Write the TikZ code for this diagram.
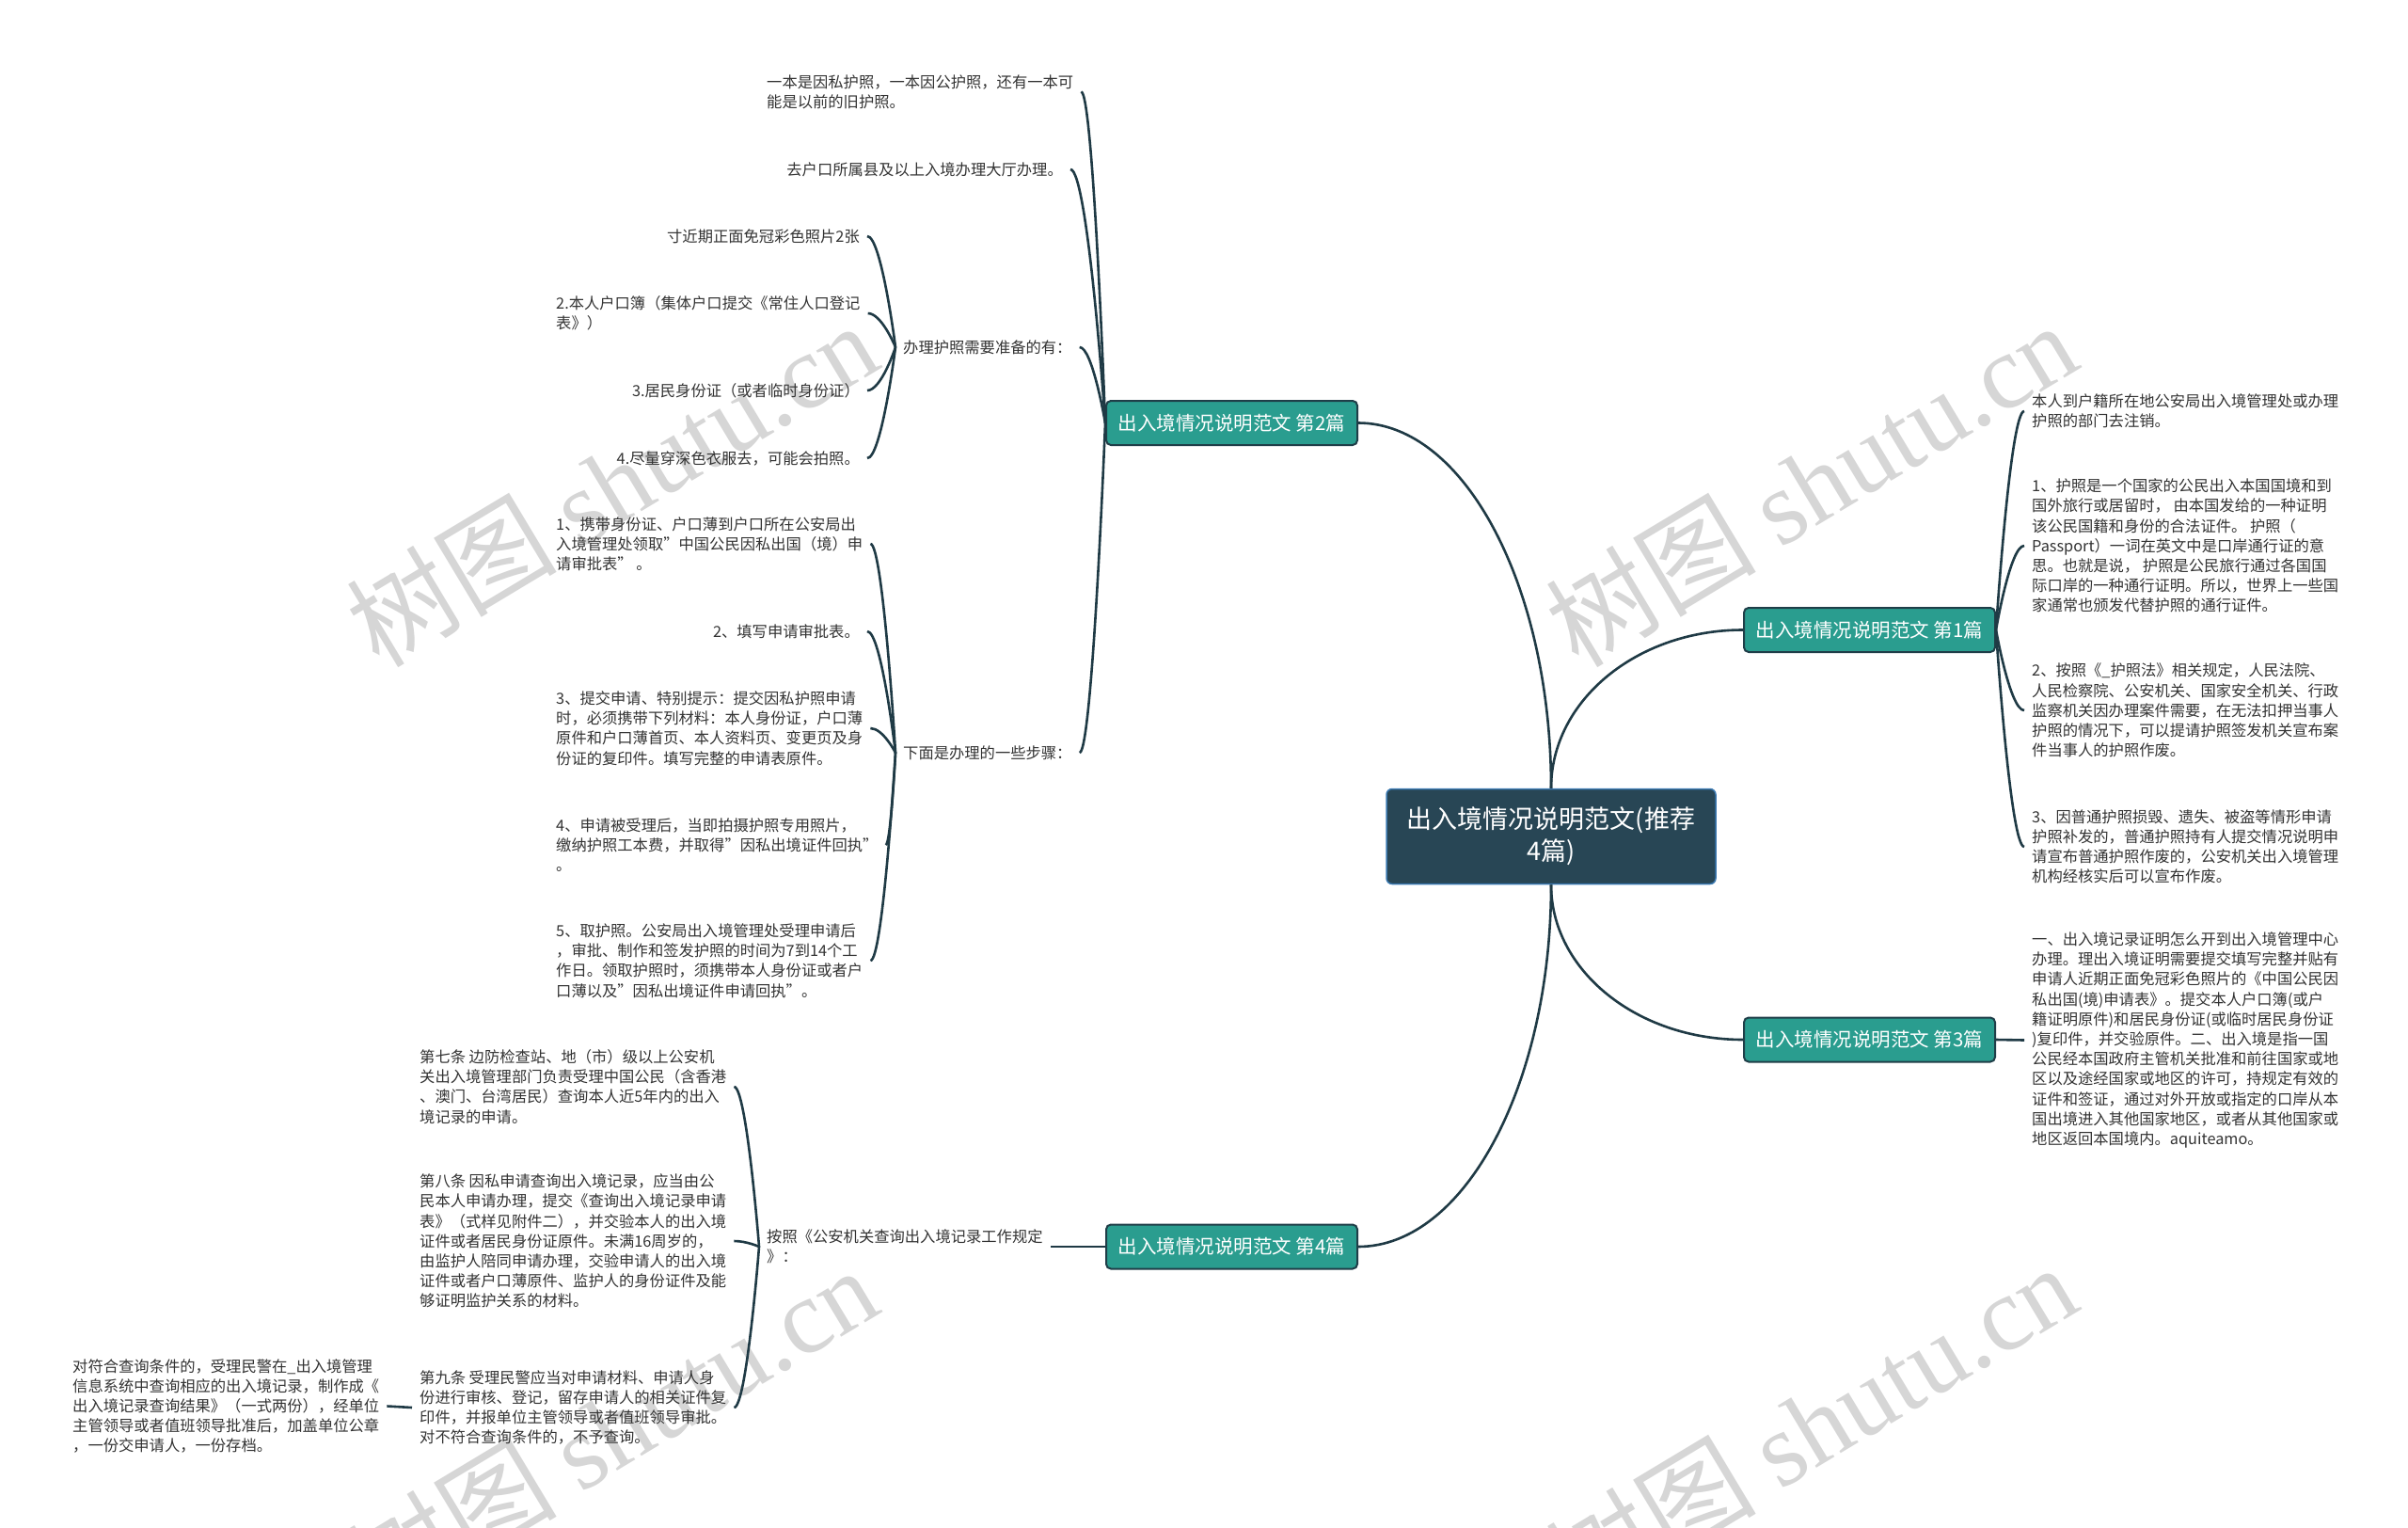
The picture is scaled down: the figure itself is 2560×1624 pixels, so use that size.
\documentclass[tikz,border=0pt]{standalone}
\usepackage{fontspec}
\setmainfont{Noto Sans CJK SC}
\newfontfamily\wmlat{Liberation Serif}
\usetikzlibrary{calc}
\definecolor{linec}{HTML}{1F3A45}
\definecolor{rootfill}{HTML}{284655}
\definecolor{rootborder}{HTML}{3A78B0}
\definecolor{brfill}{HTML}{2A9D8F}
\definecolor{brborder}{HTML}{1F3E48}
\definecolor{txt}{HTML}{333333}
\definecolor{wm}{HTML}{D6D6D6}
\tikzset{
  lnk/.style={draw=linec, line width=2.6pt},
  brace/.style={to path={let \p1=(\tikztostart), \p2=(\tikztotarget) in .. controls (\p1) and ({0.5*\x1+0.5*\x2},\y2) .. (\tikztotarget)}},
  rootnode/.style={rectangle, rounded corners=6pt, fill=rootfill, draw=rootborder, line width=1.5pt,
    minimum width=350pt, minimum height=101pt, text=white, align=center,
    font=\fontsize{27}{34}\selectfont},
  branch/.style={rectangle, rounded corners=5pt, fill=brfill, draw=brborder, line width=2pt,
    minimum width=267pt, minimum height=47pt, text=white, inner sep=0pt,
    font=\fontsize{20.5}{24}\selectfont},
  leaf/.style={font=\fontsize{16.3}{21.2}\selectfont, text=txt, align=left, inner xsep=8pt, inner ysep=3pt},
  wmark/.style={font=\fontsize{112}{112}\selectfont, text=wm, rotate=31, inner sep=0pt}
}
\begin{document}
\begin{tikzpicture}[x=1pt,y=-1pt]
\useasboundingbox (0,0) rectangle (2560,1624);
\fill[white] (0,0) rectangle (2560,1624);

% watermarks
\node[wmark] (wm1) at (650,514) {树图 {\wmlat shutu.cn}};
\node[wmark] (wm2) at (1925,514) {树图 {\wmlat shutu.cn}};
\node[wmark] (wm3) at (650,1518) {树图 {\wmlat shutu.cn}};
\node[wmark] (wm4) at (1925,1515) {树图 {\wmlat shutu.cn}};

% root and branches
\node[rootnode] (c) at (1649,889) {出入境情况说明范文(推荐\\4篇)};
\node[branch] (b2) at (1309.5,449.5) {出入境情况说明范文 第2篇};
\node[branch] (b1) at (1987.5,669.5) {出入境情况说明范文 第1篇};
\node[branch] (b3) at (1987.5,1105) {出入境情况说明范文 第3篇};
\node[branch] (b4) at (1309.5,1325) {出入境情况说明范文 第4篇};

% branch 2 subtree
\node[leaf, anchor=west] (l2a) at (807,97.5) {一本是因私护照，一本因公护照，还有一本可\\能是以前的旧护照。};
\node[leaf, anchor=east] (l2b) at (1138,180) {去户口所属县及以上入境办理大厅办理。};
\node[leaf, anchor=west] (prep) at (952,369) {办理护照需要准备的有：};
\node[leaf, anchor=east] (p1) at (922,251) {寸近期正面免冠彩色照片2张};
\node[leaf, anchor=west] (p2) at (583,333) {2.本人户口簿（集体户口提交《常住人口登记\\表》）};
\node[leaf, anchor=east] (p3) at (922,415) {3.居民身份证（或者临时身份证）};
\node[leaf, anchor=east] (p4) at (922,487) {4.尽量穿深色衣服去，可能会拍照。};
\node[leaf, anchor=west] (st) at (952,800) {下面是办理的一些步骤：};
\node[leaf, anchor=west] (s1) at (583,578) {1、携带身份证、户口薄到户口所在公安局出\\入境管理处领取"中国公民因私出国（境）申\\请审批表" 。};
\node[leaf, anchor=east] (s2) at (922,671) {2、填写申请审批表。};
\node[leaf, anchor=west] (s3) at (583,774) {3、提交申请、特别提示：提交因私护照申请\\时，必须携带下列材料：本人身份证，户口薄\\原件和户口薄首页、本人资料页、变更页及身\\份证的复印件。填写完整的申请表原件。};
\node[leaf, anchor=west] (s4) at (583,898) {4、申请被受理后，当即拍摄护照专用照片，\\缴纳护照工本费，并取得"因私出境证件回执"\\。};
\node[leaf, anchor=west] (s5) at (583,1021) {5、取护照。公安局出入境管理处受理申请后\\，审批、制作和签发护照的时间为7到14个工\\作日。领取护照时，须携带本人身份证或者户\\口薄以及"因私出境证件申请回执"。};

% branch 4 subtree
\node[leaf, anchor=west] (q) at (807,1325) {按照《公安机关查询出入境记录工作规定\\》：};
\node[leaf, anchor=west] (q1) at (438,1155) {第七条 边防检查站、地（市）级以上公安机\\关出入境管理部门负责受理中国公民（含香港\\、澳门、台湾居民）查询本人近5年内的出入\\境记录的申请。};
\node[leaf, anchor=west] (q2) at (438,1319) {第八条 因私申请查询出入境记录，应当由公\\民本人申请办理，提交《查询出入境记录申请\\表》（式样见附件二），并交验本人的出入境\\证件或者居民身份证原件。未满16周岁的，\\由监护人陪同申请办理，交验申请人的出入境\\证件或者户口薄原件、监护人的身份证件及能\\够证明监护关系的材料。};
\node[leaf, anchor=west] (q3) at (438,1496) {第九条 受理民警应当对申请材料、申请人身\\份进行审核、登记，留存申请人的相关证件复\\印件，并报单位主管领导或者值班领导审批。\\对不符合查询条件的，不予查询。};
\node[leaf, anchor=west] (q3a) at (69,1494.5) {对符合查询条件的，受理民警在\_出入境管理\\信息系统中查询相应的出入境记录，制作成《\\出入境记录查询结果》（一式两份），经单位\\主管领导或者值班领导批准后，加盖单位公章\\，一份交申请人，一份存档。};

% branch 1 subtree
\node[leaf, anchor=west] (r1) at (2152,437) {本人到户籍所在地公安局出入境管理处或办理\\护照的部门去注销。};
\node[leaf, anchor=west] (r2) at (2152,580) {1、护照是一个国家的公民出入本国国境和到\\国外旅行或居留时， 由本国发给的一种证明\\该公民国籍和身份的合法证件。 护照（\\Passport）一词在英文中是口岸通行证的意\\思。也就是说， 护照是公民旅行通过各国国\\际口岸的一种通行证明。所以，世界上一些国\\家通常也颁发代替护照的通行证件。};
\node[leaf, anchor=west] (r3) at (2152,755) {2、按照《\_护照法》相关规定，人民法院、\\人民检察院、公安机关、国家安全机关、行政\\监察机关因办理案件需要，在无法扣押当事人\\护照的情况下，可以提请护照签发机关宣布案\\件当事人的护照作废。};
\node[leaf, anchor=west] (r4) at (2152,900) {3、因普通护照损毁、遗失、被盗等情形申请\\护照补发的，普通护照持有人提交情况说明申\\请宣布普通护照作废的，公安机关出入境管理\\机构经核实后可以宣布作废。};

% branch 3 subtree
\node[leaf, anchor=west] (t) at (2152,1105.5) {一、出入境记录证明怎么开到出入境管理中心\\办理。理出入境证明需要提交填写完整并贴有\\申请人近期正面免冠彩色照片的《中国公民因\\私出国(境)申请表》。提交本人户口簿(或户\\籍证明原件)和居民身份证(或临时居民身份证\\)复印件，并交验原件。二、出入境是指一国\\公民经本国政府主管机关批准和前往国家或地\\区以及途经国家或地区的许可，持规定有效的\\证件和签证，通过对外开放或指定的口岸从本\\国出境进入其他国家地区，或者从其他国家或\\地区返回本国境内。aquiteamo。};

% root connectors
\draw[lnk] (c.north) .. controls ($(c.north)+(0,-214)$) and ($(b2.east)+(113,0)$) .. (b2.east);
\draw[lnk] (c.north) .. controls ($(c.north)+(0,-93)$) and ($(b1.west)+(-113,0)$) .. (b1.west);
\draw[lnk] (c.south) .. controls ($(c.south)+(0,91)$) and ($(b3.west)+(-113,0)$) .. (b3.west);
\draw[lnk] (c.south) .. controls ($(c.south)+(0,212)$) and ($(b4.east)+(113,0)$) .. (b4.east);

% branch connectors
\foreach \nd in {l2a,l2b,prep,st} \draw[lnk] (b2.west) to[brace] (\nd.east);
\foreach \nd in {p1,p2,p3,p4} \draw[lnk] (prep.west) to[brace] (\nd.east);
\foreach \nd in {s1,s2,s3,s4,s5} \draw[lnk] (st.west) to[brace] (\nd.east);
\draw[lnk] (b4.west) -- (q.east);
\foreach \nd in {q1,q2,q3} \draw[lnk] (q.west) to[brace] (\nd.east);
\draw[lnk] (q3.west) -- (q3a.east);
\foreach \nd in {r1,r2,r3,r4} \draw[lnk] (b1.east) to[brace] (\nd.west);
\draw[lnk] (b3.east) -- (t.west);
\end{tikzpicture}
\end{document}
